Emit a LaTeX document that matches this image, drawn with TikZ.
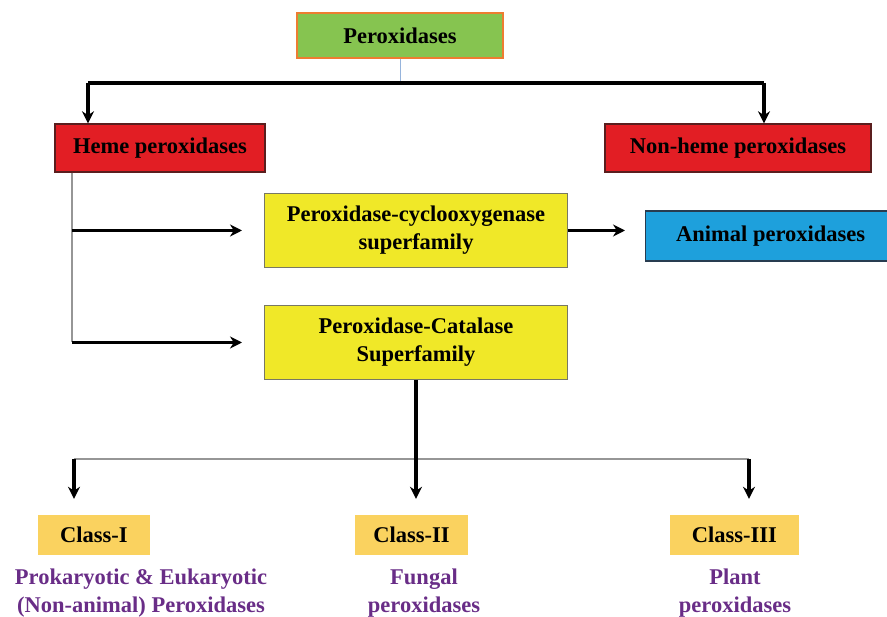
\documentclass[tikz,border=0pt]{standalone}
\usepackage{fontspec}
\setmainfont{Liberation Serif}
\usetikzlibrary{arrows.meta, positioning}
\definecolor{PeroxGreen}{RGB}{134, 196, 80}
\definecolor{PeroxOrange}{RGB}{237, 125, 49}
\definecolor{HemeRed}{RGB}{226, 30, 36}
\definecolor{HemeEdge}{RGB}{90, 30, 30}
\definecolor{FamYellow}{RGB}{240, 232, 40}
\definecolor{FamEdge}{RGB}{120, 120, 100}
\definecolor{AnimalBlue}{RGB}{30, 160, 220}
\definecolor{AnimalEdge}{RGB}{40, 60, 80}
\definecolor{ClassGold}{RGB}{250, 210, 95}
\definecolor{DescPurple}{RGB}{105, 45, 135}
\definecolor{StemBlue}{RGB}{150, 180, 220}
\definecolor{StemGray}{RGB}{150, 150, 150}

\begin{document}
\begin{tikzpicture}[
    x=1pt, y=-1pt,
    node distance=37pt,
    every node/.style={font=\fontsize{22.5}{28}\selectfont\bfseries},
    gbox/.style={draw=PeroxOrange, rectangle, fill=PeroxGreen, line width=1.6pt, minimum width=206pt, minimum height=45pt, align=center},
    rbox/.style={draw=HemeEdge, rectangle, fill=HemeRed, line width=1.4pt, minimum height=48pt, align=center},
    ybox/.style={draw=FamEdge, rectangle, fill=FamYellow, line width=1pt, minimum width=303pt, minimum height=74pt, align=center},
    bluebox/.style={draw=AnimalEdge, rectangle, fill=AnimalBlue, line width=1.4pt, minimum width=250pt, minimum height=50pt, align=left},
    cbox/.style={rectangle, fill=ClassGold, minimum height=40pt, align=center},
    desc/.style={text=DescPurple, align=center},
    arrow/.style={-{Stealth[length=12pt, width=12pt]}, line width=3.2pt},
    bar/.style={line width=3.2pt},
    thinline/.style={line width=1.3pt, color=StemGray}
]
\useasboundingbox (0,0) rectangle (887,617);
\node[gbox] (perox) at (400,35.5) {Peroxidases};
\node[rbox, minimum width=210pt] (heme) at (160,148) {Heme peroxidases};
\node[rbox, minimum width=266pt] (nonheme) at (738,148) {Non-heme peroxidases};
\node[ybox] (pcox) at (416,230.5) {Peroxidase-cyclooxygenase \\ superfamily};
\node[ybox, below=of pcox] (pcat) {Peroxidase-Catalase \\ Superfamily};
\node[bluebox, anchor=west] (animal) at (645,236) {Animal peroxidases};
\node[cbox, minimum width=112pt] (class1) at (94,535) {Class-I};
\node[cbox, minimum width=113pt] (class2) at (411.5,535) {Class-II};
\node[cbox, minimum width=129pt] (class3) at (734.5,535) {Class-III};
\node[desc] (desc1) at (141,593) {Prokaryotic \& Eukaryotic \\ (Non-animal) Peroxidases};
\node[desc] (desc2) at (424,593) {Fungal \\ peroxidases};
\node[desc] (desc3) at (735,593) {Plant \\ peroxidases};

\coordinate (tl) at (88,83);
\coordinate (tr) at (764,83);
\coordinate (hs) at (72,0);
\coordinate (bl) at (74,459);
\coordinate (br) at (749,459);

\draw[line width=1pt, StemBlue] (perox.south) -- (perox.south |- tl);
\draw[bar] (tl) -- (tr);
\draw[arrow] (tl) -- (tl |- heme.north);
\draw[arrow] (tr) -- (tr |- nonheme.north);
\draw[thinline] (hs |- heme.south) -- (hs |- pcat.west);
\draw[arrow, shorten >=22pt] (hs |- pcox.west) -- (pcox.west);
\draw[arrow, shorten >=22pt] (hs |- pcat.west) -- (pcat.west);
\draw[arrow, shorten >=20pt] (pcox.east) -- (pcox.east -| animal.west);
\draw[thinline] (bl) -- (br);
\draw[arrow, shorten >=16pt] (pcat.south) -- (pcat.south |- class2.north);
\draw[arrow, shorten >=16pt] (bl) -- (bl |- class1.north);
\draw[arrow, shorten >=16pt] (br) -- (br |- class3.north);
\end{tikzpicture}
\end{document}
